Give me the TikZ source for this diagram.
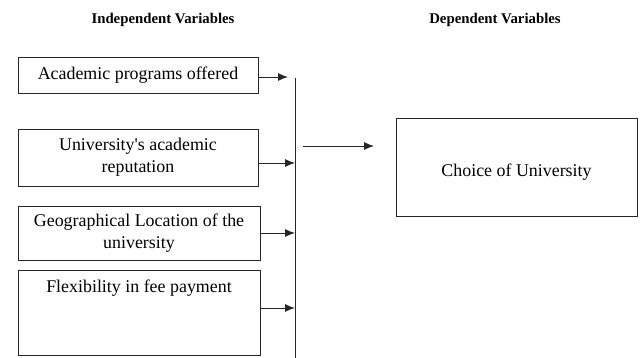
\documentclass[tikz,border=0pt]{standalone}
\usepackage{fontspec}
\setmainfont{Liberation Serif}
\usetikzlibrary{arrows.meta}
\begin{document}
\begin{tikzpicture}[x=1pt,y=-1pt,
  box/.style={draw=black!85,line width=0.9pt,minimum width=240pt,inner sep=0pt,align=center,
    font=\fontsize{17.9}{22}\selectfont},
  ttl/.style={font=\fontsize{14.8}{17}\selectfont\bfseries},
  arr/.style={draw=black!85,line width=0.9pt,-{Latex[length=10pt,width=8pt]}},
  ln/.style={draw=black!85,line width=0.9pt}]
\useasboundingbox (0,0) rectangle (640,358);
\node[ttl] (t1) at (163,20) {Independent Variables};
\node[ttl] (t2) at (495,20) {Dependent Variables};
\node[box,minimum height=36pt] (b1) at (138,75) {Academic programs offered};
\node[box,minimum height=57pt] (b2) at (138,157.5) {University\textquotesingle s academic\\reputation};
\node[box,minimum width=242pt,minimum height=54pt] (b3) at (139,233) {Geographical Location of the\\university};
\node[box,minimum width=242pt,anchor=north,text height=22pt,text depth=63pt] (b4) at (139,270) {Flexibility in fee payment};
\node[box,minimum width=241pt,anchor=north,text height=58pt,text depth=40pt] (c) at (516.5,118) {Choice of University};
\coordinate (bt) at (295,78);
\coordinate (bb) at (295,358);
\coordinate (a1s) at (258,77);
\coordinate (a1e) at (288,77);
\coordinate (a2s) at (258,163);
\coordinate (a3s) at (260,233);
\coordinate (a4s) at (260,308);
\coordinate (os) at (303,146);
\coordinate (oe) at (374,146);
\draw[ln] (bt) -- (bb);
\draw[arr] (a1s) -- (a1e);
\draw[arr] (a2s) -- (a2s -| bt);
\draw[arr] (a3s) -- (a3s -| bt);
\draw[arr] (a4s) -- (a4s -| bt);
\draw[arr] (os) -- (oe);
\end{tikzpicture}
\end{document}
